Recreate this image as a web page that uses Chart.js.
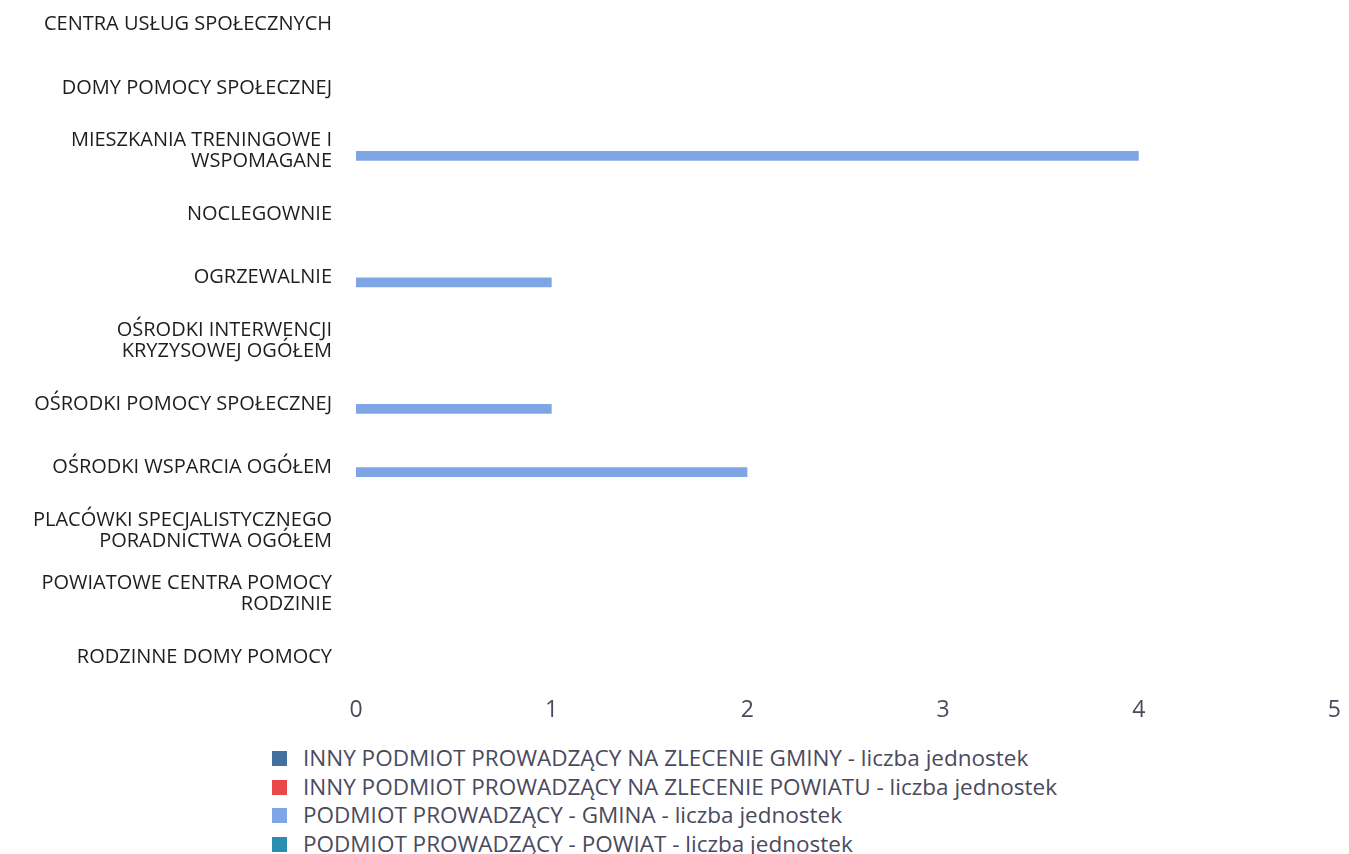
<!DOCTYPE html>
<html>
<head>
<meta charset="utf-8">
<script src="https://cdn.jsdelivr.net/npm/chart.js@4.4.0/dist/chart.umd.min.js"></script>
<style>
  body { margin: 0; background: #fff; overflow: hidden; }
  #wrap { position: absolute; left: 0; top: -7px; width: 1349px; height: 730px; }
  #legend { position: absolute; left: 272px; top: 744px; font-family: "Open Sans", sans-serif; font-size: 22.5px; color: #4a4a5e; }
  #legend div { height: 28.5px; line-height: 28.5px; white-space: nowrap; }
  #legend span { display: inline-block; width: 15px; height: 15px; margin-right: 16px; vertical-align: 0px; }
</style>
</head>
<body>
<div id="wrap"><canvas id="myChart"></canvas></div>
<div id="legend"></div>
<script>
// categories (y axis)
let categories = [
    'CENTRA USŁUG SPOŁECZNYCH',
    'DOMY POMOCY SPOŁECZNEJ',
    ['MIESZKANIA TRENINGOWE I', 'WSPOMAGANE'],
    'NOCLEGOWNIE',
    'OGRZEWALNIE',
    ['OŚRODKI INTERWENCJI', 'KRYZYSOWEJ OGÓŁEM'],
    'OŚRODKI POMOCY SPOŁECZNEJ',
    'OŚRODKI WSPARCIA OGÓŁEM',
    ['PLACÓWKI SPECJALISTYCZNEGO', 'PORADNICTWA OGÓŁEM'],
    ['POWIATOWE CENTRA POMOCY', 'RODZINIE'],
    'RODZINNE DOMY POMOCY'
]

let seriesNames = [
    'INNY PODMIOT PROWADZĄCY NA ZLECENIE GMINY - liczba jednostek',
    'INNY PODMIOT PROWADZĄCY NA ZLECENIE POWIATU - liczba jednostek',
    'PODMIOT PROWADZĄCY - GMINA - liczba jednostek',
    'PODMIOT PROWADZĄCY - POWIAT - liczba jednostek'
]

let innyGmina = [0, 0, 0, 0, 0, 0, 0, 0, 0, 0, 0]
let innyPowiat = [0, 0, 0, 0, 0, 0, 0, 0, 0, 0, 0]
let gmina = [0, 0, 4, 0, 1, 0, 1, 2, 0, 0, 0]
let powiat = [0, 0, 0, 0, 0, 0, 0, 0, 0, 0, 0]

let xTicks = [0, 1, 2, 3, 4, 5]

let colors = ['#44709f', '#e8474b', '#7fa6e4', '#2a8db2']

let allSeries = [innyGmina, innyPowiat, gmina, powiat]

let ctx = document.getElementById('myChart').getContext('2d')

new Chart(ctx, {
    type: 'bar',
    data: {
        labels: categories,
        datasets: allSeries.map((d, i) => ({
            label: seriesNames[i],
            data: d,
            backgroundColor: colors[i],
            borderWidth: 0,
            categoryPercentage: 0.62,
            barPercentage: 1
        }))
    },
    options: {
        indexAxis: 'y',
        responsive: true,
        maintainAspectRatio: false,
        animation: false,
        layout: { padding: { right: 9 } },
        plugins: {
            legend: { display: false },
            tooltip: { enabled: false }
        },
        scales: {
            x: {
                min: xTicks[0],
                max: xTicks[xTicks.length - 1],
                afterBuildTicks: axis => { axis.ticks = xTicks.map(v => ({ value: v })) },
                afterFit: axis => { axis.height = 34.5 },
                grid: { display: false, drawTicks: false },
                border: { display: false },
                ticks: {
                    padding: 8,
                    color: '#4a4a5e',
                    font: { family: 'Open Sans', size: 23 }
                }
            },
            y: {
                afterFit: axis => {
                    axis.width = 356
                    axis.paddingTop = 0
                    axis.paddingBottom = 0
                },
                grid: { display: false, drawTicks: false },
                border: { display: false },
                ticks: {
                    padding: 24,
                    color: '#1e1e1e',
                    font: { family: 'Open Sans', size: 20, lineHeight: 1.05 }
                }
            }
        }
    }
})

// legend list, one item per row
let legend = document.getElementById('legend')
seriesNames.forEach((name, i) => {
    let row = document.createElement('div')
    row.innerHTML = `<span style="background:${colors[i]}"></span>${name}`
    legend.appendChild(row)
})
</script>
</body>
</html>
